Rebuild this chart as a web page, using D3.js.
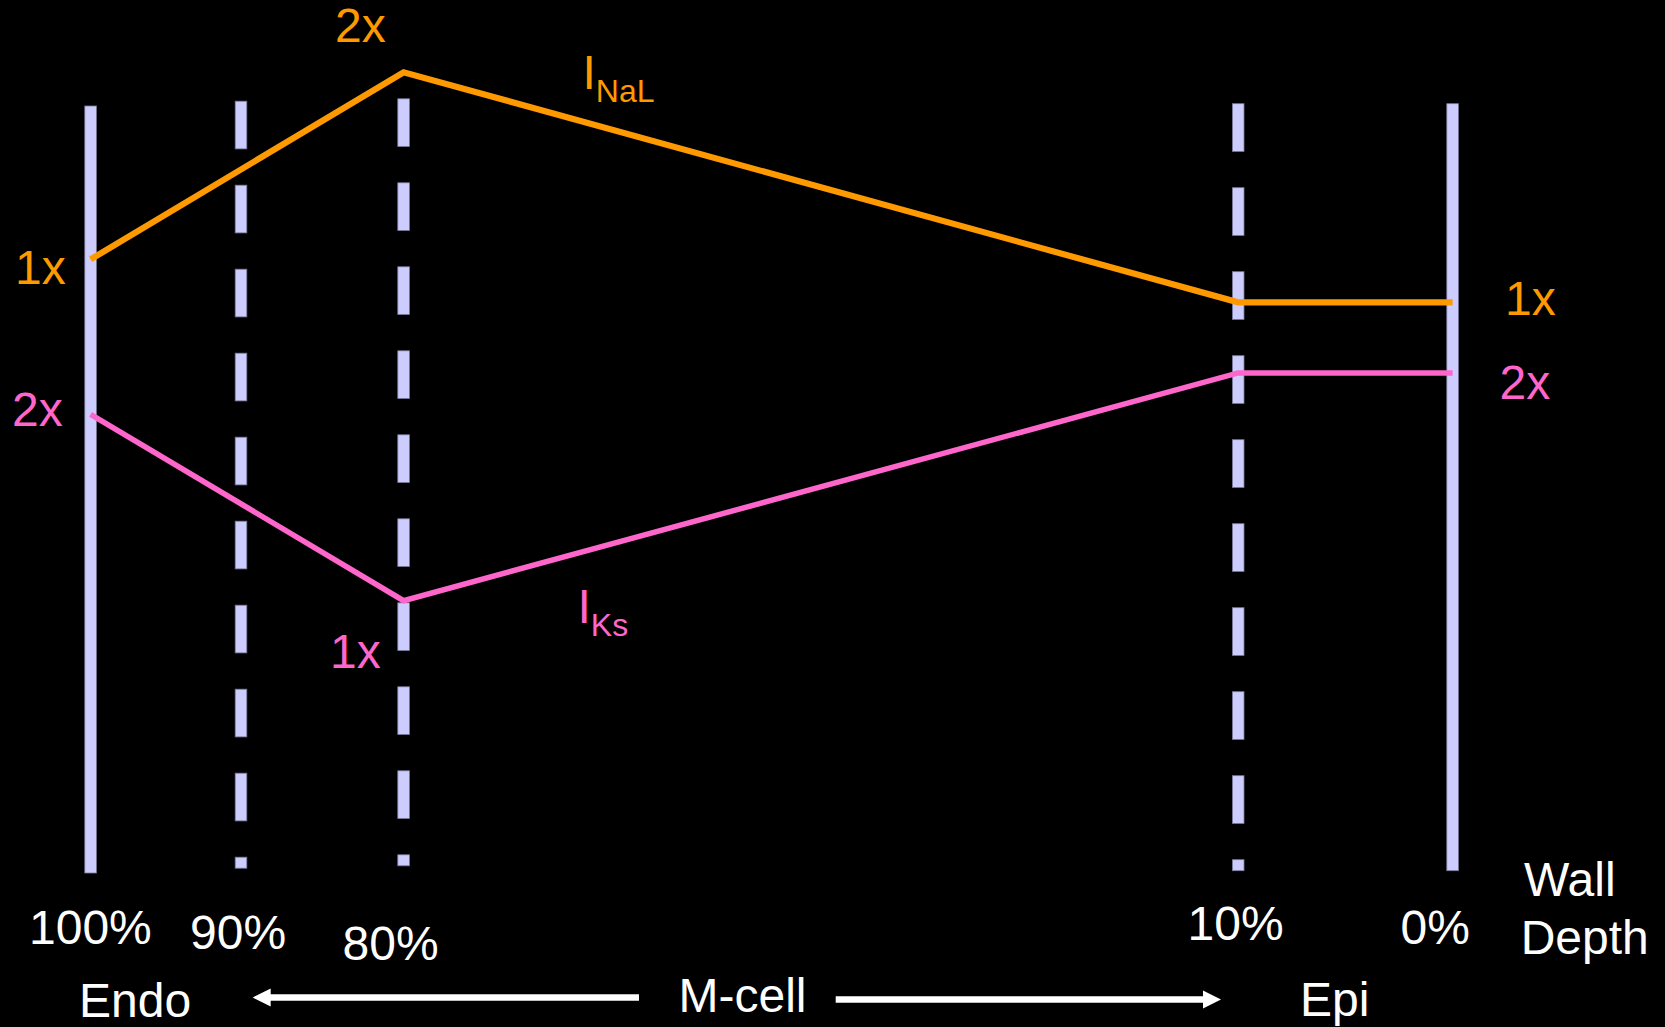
<!DOCTYPE html>
<html>
<head>
<meta charset="utf-8">
<script src="https://cdn.jsdelivr.net/npm/d3@7"></script>
<style>
  html, body { margin: 0; padding: 0; background: #000; overflow: hidden; }
  svg { display: block; }
  text { font-family: "Liberation Sans", Arial, Helvetica, sans-serif; }
</style>
</head>
<body>
<svg id="chart" width="1665" height="1027"></svg>
<script>
// ---------- data ----------
const wallDepths   = [100, 90, 80, 10, 0];              // boundaries of the wall (% depth)
const wallLabels   = ["100%", "90%", "80%", "10%", "0%"];
const wallStyles   = ["solid", "dashed", "dashed", "dashed", "solid"];

const pointDepths  = [100, 80, 10, 0];                 // where the current profiles change slope
const iNaLLevels   = [80.0, 104.4, 74.4, 74.4];        // relative level (0 = wall bottom, 100 = wall top)
const iKsLevels    = [59.8, 35.5, 65.2, 65.2];
const iNaLMult     = ["1x", "2x", null, "1x"];
const iKsMult      = ["2x", "1x", null, "2x"];

const regionLabels = ["Endo", "M-cell", "Epi"];
const axisTitle    = ["Wall", "Depth"];

// ---------- layout / style ----------
const W = 1665, H = 1027;
const ORANGE = "#FF9900", PINK = "#FF66CC", LAV = "#CCCCFF", WHITE = "#FFFFFF";
const FS = 48, FS_SUB = 32;

const svg = d3.select("#chart");
svg.append("rect").attr("width", W).attr("height", H).attr("fill", "#000");

// piece-wise linear x scale: schematic (not proportional) spacing of the wall
const x = d3.scaleLinear()
  .domain(wallDepths)
  .range([90.6, 241, 403.6, 1238.2, 1452.6]);
const y = d3.scaleLinear().domain([0, 100]).range([873, 106]);

// small vertical offsets of each boundary line (drawing style)
const wallShift = [0, -4.8, -7.2, -2.3, -2.3];

// ---------- wall boundary lines ----------
const walls = svg.append("g");
wallDepths.forEach((d, i) => {
  const g = walls.append("g");
  const y0 = y(100) + wallShift[i], y1 = y(0) + wallShift[i];
  if (wallStyles[i] === "solid") {
    g.append("rect")
      .attr("x", x(d) - 5.8).attr("y", y0)
      .attr("width", 11.6).attr("height", y1 - y0)
      .attr("fill", LAV).attr("stroke", "#7a7a99").attr("stroke-width", 0.8);
  } else {
    const period = 84, dash = 47.7;
    const starts = d3.range(y0, y1, period);
    g.selectAll("rect").data(starts).join("rect")
      .attr("x", x(d) - 5.8).attr("y", s => s)
      .attr("width", 11.6).attr("height", s => Math.min(dash, y1 - s))
      .attr("fill", LAV).attr("stroke", "#7a7a99").attr("stroke-width", 0.8);
  }
});

// ---------- current profiles ----------
const line = d3.line().x(d => x(d.depth)).y(d => y(d.level));
const naL = pointDepths.map((d, i) => ({ depth: d, level: iNaLLevels[i], mult: iNaLMult[i] }));
const ks  = pointDepths.map((d, i) => ({ depth: d, level: iKsLevels[i], mult: iKsMult[i] }));

svg.append("path").datum(ks).attr("d", line)
  .attr("fill", "none").attr("stroke", PINK).attr("stroke-width", 5.5)
  .attr("stroke-linejoin", "miter");
svg.append("path").datum(naL).attr("d", line)
  .attr("fill", "none").attr("stroke", ORANGE).attr("stroke-width", 6.2)
  .attr("stroke-linejoin", "miter");

// multiplier annotations (offsets relative to each point)
const naLOffsets = [[-75.6, 25], [-68.6, -29.8], null, [52.4, 12.7]];
const ksOffsets  = [[-78.6, 11.7], [-73.6, 67.5], null, [46.9, 26.2]];
function annotate(series, offsets, color) {
  series.forEach((p, i) => {
    if (!p.mult) return;
    svg.append("text")
      .attr("x", x(p.depth) + offsets[i][0])
      .attr("y", y(p.level) + offsets[i][1])
      .attr("fill", color).attr("font-size", FS)
      .text(p.mult);
  });
}
annotate(naL, naLOffsets, ORANGE);
annotate(ks, ksOffsets, PINK);

// series names with subscripts
function seriesName(xp, yp, main, sub, color) {
  const t = svg.append("text").attr("x", xp).attr("y", yp).attr("fill", color).attr("font-size", FS);
  t.append("tspan").text(main);
  t.append("tspan").attr("font-size", FS_SUB).attr("dy", 13).text(sub);
}
seriesName(582.5, 89, "I", "NaL", ORANGE);
seriesName(577.5, 623, "I", "Ks", PINK);

// ---------- depth tick labels ----------
const tickOffsets = [[-61.6, 944], [-51, 948.7], [-61, 959.7], [-50.7, 939.5], [-52, 944]];
wallDepths.forEach((d, i) => {
  svg.append("text")
    .attr("x", x(d) + tickOffsets[i][0]).attr("y", tickOffsets[i][1])
    .attr("fill", WHITE).attr("font-size", FS)
    .text(wallLabels[i]);
});

// axis title
svg.append("text").attr("x", 1524).attr("y", 896).attr("fill", WHITE).attr("font-size", FS).text(axisTitle[0]);
svg.append("text").attr("x", 1520.7).attr("y", 953.5).attr("fill", WHITE).attr("font-size", FS).text(axisTitle[1]);

// ---------- region labels and arrows ----------
svg.append("text").attr("x", 79).attr("y", 1016.5).attr("fill", WHITE).attr("font-size", FS).text(regionLabels[0]);
svg.append("text").attr("x", 678.5).attr("y", 1011.7).attr("fill", WHITE).attr("font-size", FS).text(regionLabels[1]);
svg.append("text").attr("x", 1300).attr("y", 1016).attr("fill", WHITE).attr("font-size", FS).text(regionLabels[2]);

function arrow(x0, x1, yy) {
  const dir = Math.sign(x1 - x0);
  const headLen = 18, headHalf = 9;
  svg.append("line")
    .attr("x1", x0).attr("y1", yy).attr("x2", x1 - dir * headLen + dir * 1).attr("y2", yy)
    .attr("stroke", WHITE).attr("stroke-width", 6.5);
  svg.append("path")
    .attr("d", d3.line()([[x1, yy], [x1 - dir * headLen, yy - headHalf], [x1 - dir * headLen, yy + headHalf]]) + "Z")
    .attr("fill", WHITE);
}
arrow(639, 252.7, 997.5);
arrow(835.7, 1221, 999.5);
</script>
</body>
</html>
